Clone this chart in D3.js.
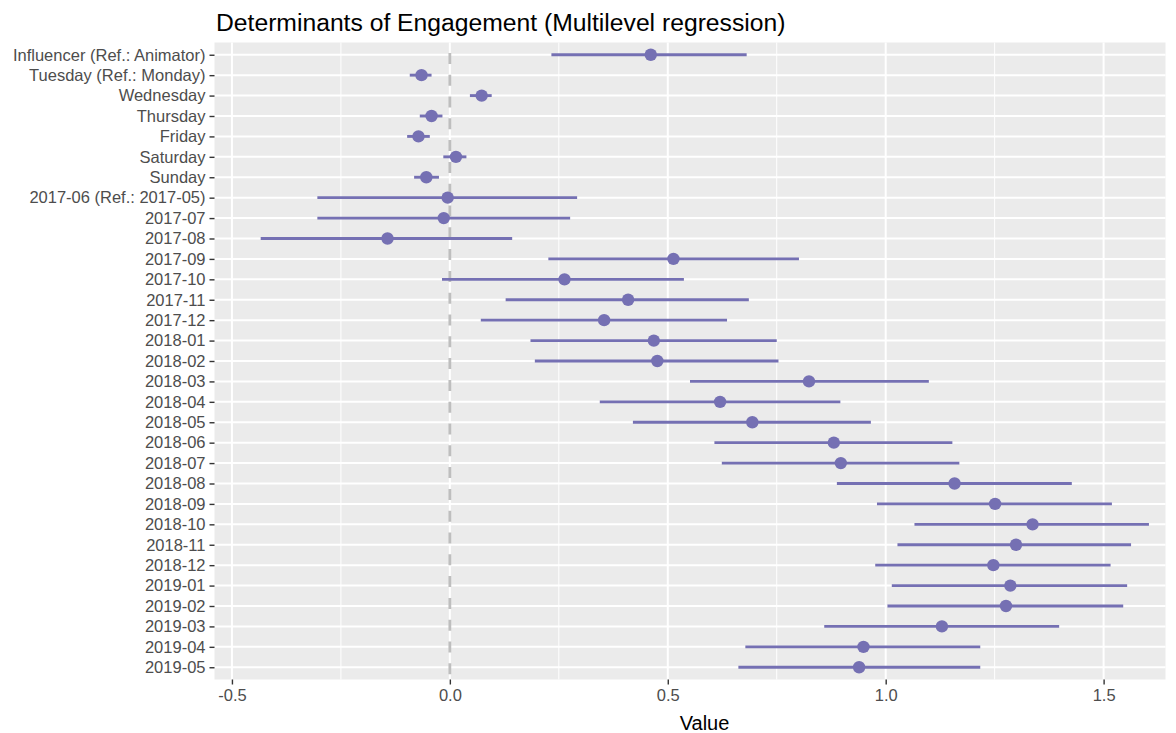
<!DOCTYPE html>
<html>
<head>
<meta charset="utf-8">
<script src="https://cdn.jsdelivr.net/npm/d3@7"></script>
<style>
  html, body { margin: 0; padding: 0; background: #ffffff; }
  svg { display: block; font-family: "Liberation Sans", Arial, sans-serif; }
</style>
</head>
<body>
<svg id="chart" width="1176" height="733"></svg>
<script>
// Coefficient estimates with 95% intervals, one per model term
const terms = [
  "Influencer (Ref.: Animator)", "Tuesday (Ref.: Monday)", "Wednesday", "Thursday",
  "Friday", "Saturday", "Sunday", "2017-06 (Ref.: 2017-05)", "2017-07", "2017-08",
  "2017-09", "2017-10", "2017-11", "2017-12", "2018-01", "2018-02", "2018-03",
  "2018-04", "2018-05", "2018-06", "2018-07", "2018-08", "2018-09", "2018-10",
  "2018-11", "2018-12", "2019-01", "2019-02", "2019-03", "2019-04", "2019-05"
];
const estimate = [
  0.461, -0.065, 0.073, -0.042, -0.072, 0.014, -0.054, -0.005, -0.014, -0.143,
  0.513, 0.263, 0.409, 0.354, 0.468, 0.476, 0.824, 0.620, 0.694, 0.881,
  0.897, 1.158, 1.251, 1.337, 1.299, 1.247, 1.286, 1.276, 1.129, 0.949, 0.939
];
const lower = [
  0.233, -0.092, 0.046, -0.069, -0.098, -0.015, -0.082, -0.304, -0.304, -0.434,
  0.226, -0.018, 0.128, 0.071, 0.185, 0.195, 0.551, 0.344, 0.420, 0.607,
  0.624, 0.888, 0.980, 1.066, 1.027, 0.976, 1.014, 1.004, 0.859, 0.678, 0.662
];
const upper = [
  0.681, -0.042, 0.096, -0.017, -0.046, 0.038, -0.025, 0.292, 0.276, 0.143,
  0.801, 0.537, 0.686, 0.636, 0.750, 0.754, 1.099, 0.896, 0.966, 1.153,
  1.169, 1.427, 1.519, 1.604, 1.563, 1.516, 1.554, 1.545, 1.398, 1.217, 1.217
];
const xMajor = [-0.5, 0.0, 0.5, 1.0, 1.5];
const xMinor = [-0.25, 0.25, 0.75, 1.25];
const xTickLabels = ["-0.5", "0.0", "0.5", "1.0", "1.5"];

const rows = terms.map((t, i) => ({ term: t, est: estimate[i], lo: lower[i], hi: upper[i] }));

const panel = { left: 214.5, right: 1165.5, top: 42.5, bottom: 679.5 };
const accent = "#7570b3";

const svg = d3.select("#chart");

const x = d3.scaleLinear().domain([-0.540, 1.642]).range([panel.left, panel.right]);
const y = d3.scalePoint().domain(terms).range([panel.top, panel.bottom]).padding(0.6);

// panel background
svg.append("rect")
  .attr("x", panel.left).attr("y", panel.top)
  .attr("width", panel.right - panel.left).attr("height", panel.bottom - panel.top)
  .attr("fill", "#ebebeb");

const grid = svg.append("g");
grid.selectAll("line.minor").data(xMinor).join("line")
  .attr("class", "minor")
  .attr("x1", d => x(d)).attr("x2", d => x(d))
  .attr("y1", panel.top).attr("y2", panel.bottom)
  .attr("stroke", "#ffffff").attr("stroke-width", 1);
grid.selectAll("line.vmajor").data(xMajor).join("line")
  .attr("class", "vmajor")
  .attr("x1", d => x(d)).attr("x2", d => x(d))
  .attr("y1", panel.top).attr("y2", panel.bottom)
  .attr("stroke", "#ffffff").attr("stroke-width", 2);
grid.selectAll("line.hmajor").data(terms).join("line")
  .attr("class", "hmajor")
  .attr("x1", panel.left).attr("x2", panel.right)
  .attr("y1", d => y(d)).attr("y2", d => y(d))
  .attr("stroke", "#ffffff").attr("stroke-width", 2);

// reference line at zero
svg.append("line")
  .attr("x1", x(0)).attr("x2", x(0))
  .attr("y1", panel.top).attr("y2", panel.bottom)
  .attr("stroke", "#bebebe").attr("stroke-width", 2.8)
  .attr("stroke-dasharray", "11,10.8").attr("stroke-dashoffset", 11.4);

// intervals and estimates
const marks = svg.append("g");
marks.selectAll("line.ci").data(rows).join("line")
  .attr("class", "ci")
  .attr("x1", d => x(d.lo)).attr("x2", d => x(d.hi))
  .attr("y1", d => y(d.term)).attr("y2", d => y(d.term))
  .attr("stroke", accent).attr("stroke-width", 2.9);
marks.selectAll("circle").data(rows).join("circle")
  .attr("cx", d => x(d.est)).attr("cy", d => y(d.term))
  .attr("r", 6.2).attr("fill", accent);

// y axis
const yAxis = svg.append("g")
  .attr("transform", `translate(${panel.left},0)`)
  .call(d3.axisLeft(y).tickSize(5).tickPadding(4));
yAxis.select(".domain").remove();
yAxis.selectAll(".tick line").attr("stroke", "#333333").attr("stroke-width", 1.4);
yAxis.selectAll(".tick text")
  .attr("fill", "#4d4d4d").attr("font-size", "16.5px")
  .attr("font-family", "'Liberation Sans', Arial, sans-serif");

// x axis
const xAxis = svg.append("g")
  .attr("transform", `translate(0,${panel.bottom})`)
  .call(d3.axisBottom(x).tickValues(xMajor).tickFormat((d, i) => xTickLabels[i]).tickSize(5).tickPadding(5));
xAxis.select(".domain").remove();
xAxis.selectAll(".tick line").attr("stroke", "#333333").attr("stroke-width", 1.4);
xAxis.selectAll(".tick text")
  .attr("fill", "#4d4d4d").attr("font-size", "16.5px")
  .attr("font-family", "'Liberation Sans', Arial, sans-serif");

// axis title
svg.append("text")
  .attr("x", 704.5).attr("y", 730)
  .attr("text-anchor", "middle")
  .attr("font-size", "20px").attr("fill", "#000000")
  .text("Value");

// chart title
svg.append("text")
  .attr("x", panel.left + 1.5).attr("y", 31)
  .attr("font-size", "24.7px").attr("fill", "#000000")
  .text("Determinants of Engagement (Multilevel regression)");
</script>
</body>
</html>
